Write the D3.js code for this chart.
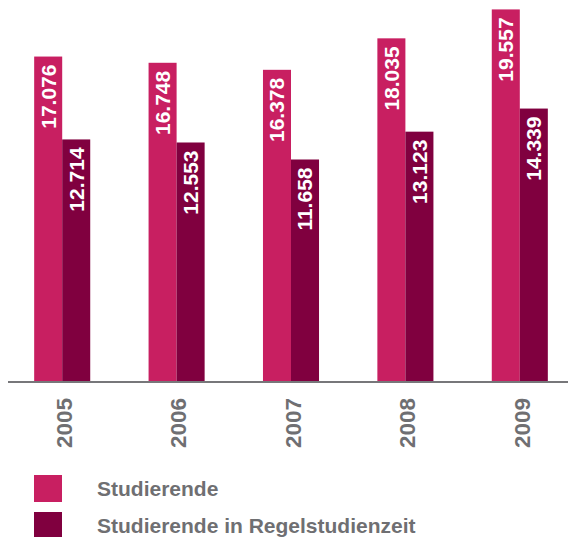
<!DOCTYPE html>
<html>
<head>
<meta charset="utf-8">
<script src="https://cdn.jsdelivr.net/npm/d3@7"></script>
<style>
  body { margin: 0; background: #fff; }
  svg { display: block; font-family: "Liberation Sans", Arial, sans-serif; }
</style>
</head>
<body>
<div id="chart"></div>
<script>
// data
const years = ['2005', '2006', '2007', '2008', '2009'];
const seriesNames = ['Studierende', 'Studierende in Regelstudienzeit'];
const studierende = [17.076, 16.748, 16.378, 18.035, 19.557];
const regelstudienzeit = [12.714, 12.553, 11.658, 13.123, 14.339];
const valueLabels = [
    ['17.076', '16.748', '16.378', '18.035', '19.557'],
    ['12.714', '12.553', '11.658', '13.123', '14.339']
];

const width = 568;
const height = 537;
const baseY = 381;

const colors = ['#c81f61', '#80003f'];
const textGray = '#6f6f72';

const svg = d3.select('#chart').append('svg')
    .attr('width', width)
    .attr('height', height);

// scales
const x0 = d3.scaleBand()
    .domain(years)
    .range([5, 577])
    .paddingInner(0.51)
    .paddingOuter(0.255);

const x1 = d3.scaleBand()
    .domain([0, 1])
    .range([0, x0.bandwidth()]);

const y = d3.scaleLinear()
    .domain([0, 20])
    .range([baseY, 1]);

// group data
const rows = years.map((yr, i) => ({
    year: yr,
    values: [studierende[i], regelstudienzeit[i]],
    labels: [valueLabels[0][i], valueLabels[1][i]]
}));

const groups = svg.append('g').selectAll('g')
    .data(rows)
    .join('g')
    .attr('transform', d => `translate(${x0(d.year)},0)`);

groups.selectAll('rect')
    .data(d => d.values.map((v, k) => ({ k, v })))
    .join('rect')
    .attr('x', d => x1(d.k))
    .attr('y', d => y(d.v))
    .attr('width', x1.bandwidth())
    .attr('height', d => baseY - y(d.v))
    .attr('fill', d => colors[d.k]);

// value labels inside bars
groups.selectAll('text.value')
    .data(d => d.values.map((v, k) => ({ k, v, label: d.labels[k] })))
    .join('text')
    .attr('class', 'value')
    .attr('transform', d => `translate(${x1(d.k) + x1.bandwidth() / 2},${y(d.v) + 8}) rotate(-90)`)
    .attr('text-anchor', 'end')
    .attr('dy', '0.35em')
    .attr('fill', '#fff')
    .style('font-size', '21px')
    .style('font-weight', 'bold')
    .text(d => d.label);

// baseline
svg.append('line')
    .attr('x1', 8)
    .attr('x2', width)
    .attr('y1', baseY + 1)
    .attr('y2', baseY + 1)
    .attr('stroke', '#77777a')
    .attr('stroke-width', 2);

// year labels
svg.append('g').selectAll('text')
    .data(years)
    .join('text')
    .attr('transform', d => `translate(${x0(d) + x0.bandwidth() / 2 + 2},${baseY + 17}) rotate(-90)`)
    .attr('text-anchor', 'end')
    .attr('dy', '0.35em')
    .attr('fill', textGray)
    .style('font-size', '22.5px')
    .style('font-weight', 'bold')
    .text(d => d);

// legend
const legend = svg.append('g').selectAll('g')
    .data(seriesNames)
    .join('g')
    .attr('transform', (d, i) => `translate(34,${475 + i * 37})`);

legend.append('rect')
    .attr('width', 28)
    .attr('height', 27)
    .attr('fill', (d, i) => colors[i]);

legend.append('text')
    .attr('x', 63)
    .attr('y', 13.5)
    .attr('dy', '0.35em')
    .attr('fill', textGray)
    .style('font-size', '21px')
    .style('font-weight', 'bold')
    .text(d => d);
</script>
</body>
</html>
